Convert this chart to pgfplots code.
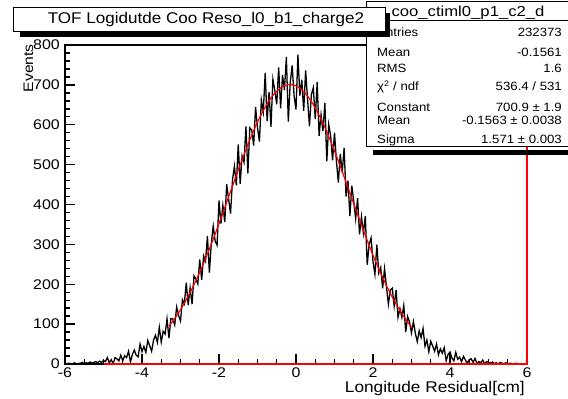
\documentclass[border=0pt]{standalone}
\usepackage{graphicx}
\usepackage{pgfplots}
\pgfplotsset{compat=1.18}
\usepackage{fontspec}
\setmainfont{Liberation Sans}
\newcommand\sx[1]{\scalebox{1.14}[1]{#1}}
\newcommand\st[1]{\scalebox{1.1}[1]{#1}}
\newcommand\tickfont{\fontsize{14pt}{16pt}\selectfont}
\newcommand\statfont{\fontsize{12pt}{14pt}\selectfont}
\begin{document}
\begin{tikzpicture}
\path[use as bounding box] (0,0) rectangle (568pt,399pt);
\begin{axis}[
  at={(65pt,35pt)}, anchor=south west,
  scale only axis, width=462pt, height=319pt,
  xmin=-6, xmax=6, ymin=0, ymax=800,
  xtick={-6,-4,-2,0,2,4,6},
  xticklabels={\sx{-6},\sx{-4},\sx{-2},\sx{0},\sx{2},\sx{4},\sx{6}},
  ytick={0,100,200,300,400,500,600,700,800},
  yticklabels={\sx{0},\sx{100},\sx{200},\sx{300},\sx{400},\sx{500},\sx{600},\sx{700},\sx{800}},
  minor x tick num=3, minor y tick num=4,
  xtick pos=left, ytick pos=left, tick align=inside,
  major tick length=10pt, minor tick length=5pt,
  tick style={line width=1.4pt, black},
  axis line style={line width=1.1pt},
  xticklabel style={font=\tickfont, anchor=north, inner sep=0pt, yshift=-4pt},
  yticklabel style={font=\tickfont, anchor=east, inner sep=0pt, xshift=-5pt},
  clip=false,
]
\addplot[black, line width=1.3pt] table {
x y
-6.00 1
-5.95 0
-5.90 2
-5.85 0
-5.80 1
-5.75 3
-5.70 0
-5.65 1
-5.60 2
-5.55 4
-5.50 1
-5.45 3
-5.40 2
-5.35 5
-5.30 2
-5.25 4
-5.20 6
-5.15 3
-5.10 7
-5.05 4
-5.00 9
-4.95 6
-4.90 16
-4.85 3
-4.80 11
-4.75 1
-4.70 16
-4.65 13
-4.60 8
-4.55 22
-4.50 8
-4.45 21
-4.40 16
-4.35 32
-4.30 5
-4.25 24
-4.20 35
-4.15 22
-4.10 18
-4.05 50
-4.00 31
-3.95 44
-3.90 29
-3.85 59
-3.80 46
-3.75 32
-3.70 60
-3.65 72
-3.60 54
-3.55 92
-3.50 55
-3.45 82
-3.40 75
-3.35 113
-3.30 65
-3.25 114
-3.20 113
-3.15 98
-3.10 143
-3.05 122
-3.00 108
-2.95 161
-2.90 151
-2.85 204
-2.80 148
-2.75 191
-2.70 150
-2.65 221
-2.60 213
-2.55 201
-2.50 262
-2.45 211
-2.40 271
-2.35 258
-2.30 321
-2.25 229
-2.20 303
-2.15 346
-2.10 308
-2.05 298
-2.00 410
-1.95 352
-1.90 398
-1.85 356
-1.80 451
-1.75 413
-1.70 377
-1.65 461
-1.60 496
-1.55 448
-1.50 551
-1.45 452
-1.40 522
-1.35 506
-1.30 596
-1.25 478
-1.20 592
-1.15 587
-1.10 548
-1.05 644
-1.00 593
-0.95 558
-0.90 662
-0.85 632
-0.80 730
-0.75 609
-0.70 682
-0.65 595
-0.60 714
-0.55 686
-0.50 651
-0.45 744
-0.40 641
-0.35 725
-0.30 687
-0.25 770
-0.20 608
-0.15 705
-0.10 749
-0.05 673
0.00 638
0.05 776
0.10 673
0.15 713
0.20 635
0.25 736
0.30 665
0.35 596
0.40 676
0.45 693
0.50 614
0.55 707
0.60 572
0.65 625
0.70 584
0.75 655
0.80 508
0.85 601
0.90 572
0.95 511
1.00 580
1.05 509
1.10 455
1.15 527
1.20 480
1.25 542
1.30 420
1.35 460
1.40 371
1.45 447
1.50 408
1.55 364
1.60 416
1.65 325
1.70 370
1.75 328
1.80 371
1.85 249
1.90 300
1.95 316
2.00 257
2.05 225
2.10 299
2.15 228
2.20 242
2.25 190
2.30 239
2.35 193
2.40 150
2.45 186
2.50 190
2.55 145
2.60 186
2.65 117
2.70 139
2.75 117
2.80 147
2.85 80
2.90 119
2.95 105
3.00 78
3.05 106
3.10 77
3.15 56
3.20 83
3.25 66
3.30 89
3.35 45
3.40 60
3.45 31
3.50 57
3.55 45
3.60 32
3.65 50
3.70 23
3.75 38
3.80 27
3.85 41
3.90 8
3.95 24
4.00 30
4.05 15
4.10 8
4.15 29
4.20 12
4.25 17
4.30 6
4.35 19
4.40 10
4.45 1
4.50 11
4.55 13
4.60 4
4.65 14
4.70 1
4.75 6
4.80 3
4.85 10
4.90 0
4.95 6
5.00 4
5.05 2
5.10 5
5.15 1
5.20 3
5.25 0
5.30 4
5.35 2
5.40 1
5.45 3
5.50 0
5.55 2
5.60 1
5.65 0
5.70 2
5.75 1
5.80 0
5.85 1
5.90 0
5.95 1
6.00 0
};
\addplot[red, line width=1.2pt, smooth] coordinates {
(-3.3,94.7)(-3.2,107.3)(-3.1,121.2)(-3.0,136.2)(-2.9,152.5)(-2.8,170.1)(-2.7,189.0)(-2.6,209.0)(-2.5,230.3)(-2.4,252.8)(-2.3,276.3)(-2.2,300.7)(-2.1,326.0)(-2.0,352.0)(-1.9,378.6)(-1.8,405.5)(-1.7,432.5)(-1.6,459.5)(-1.5,486.2)(-1.4,512.4)(-1.3,537.7)(-1.2,562.1)(-1.1,585.2)(-1.0,606.8)(-0.9,626.6)(-0.8,644.5)(-0.7,660.2)(-0.6,673.5)(-0.5,684.3)(-0.4,692.5)(-0.3,698.0)(-0.2,700.6)(-0.1,700.5)(0.0,697.4)(0.1,691.6)(0.2,683.1)(0.3,672.0)(0.4,658.3)(0.5,642.3)(0.6,624.2)(0.7,604.2)(0.8,582.4)(0.9,559.1)(1.0,534.6)(1.1,509.1)(1.2,482.8)(1.3,456.1)(1.4,429.1)(1.5,402.0)(1.6,375.2)(1.7,348.7)(1.8,322.8)(1.9,297.6)(2.0,273.3)(2.1,249.9)(2.2,227.6)(2.3,206.5)(2.4,186.5)(2.5,167.8)(2.6,150.4)(2.7,134.2)(2.8,119.3)(2.9,105.6)(3.0,93.1)
};
\addplot[red, line width=1.3pt] coordinates {(-5,0)(6,0)(6,800)};
\end{axis}
% axis labels
\node[font=\fontsize{15.5pt}{17pt}\selectfont, anchor=base east, inner sep=0pt] at (525pt,6pt) {\scalebox{1.11}[1]{Longitude Residual[cm]}};
\node[font=\fontsize{13.8pt}{16pt}\selectfont, anchor=base east, inner sep=0pt, rotate=90] at (33pt,355pt) {\sx{Events}};
% stats box
\fill[black] (373pt,244pt) rectangle (572pt,249pt);
\draw[fill=white, line width=1pt] (366pt,252pt) rectangle (571pt,397pt);
\draw[line width=1pt] (366pt,378pt) -- (571pt,378pt);
\node[font=\fontsize{14.5pt}{16pt}\selectfont, anchor=base, inner sep=0pt] at (468pt,382pt) {\scalebox{1.15}[1]{coo\_ctiml0\_p1\_c2\_d}};
\begin{scope}[every node/.style={font=\statfont, inner sep=0pt}]
\node[anchor=base west] at (377pt,362pt) {\st{Entries}};
\node[anchor=base east] at (562pt,362pt) {\st{232373}};
\node[anchor=base west] at (377pt,342pt) {\st{Mean}};
\node[anchor=base east] at (562pt,342pt) {\st{-0.1561}};
\node[anchor=base west] at (377pt,326.5pt) {\st{RMS}};
\node[anchor=base east] at (562pt,326.5pt) {\st{1.6}};
\node[anchor=base west] at (377pt,308pt) {\st{χ\textsuperscript{2} / ndf}};
\node[anchor=base east] at (562pt,308pt) {\st{536.4 / 531}};
\node[anchor=base west] at (377pt,287.5pt) {\st{Constant}};
\node[anchor=base east] at (562pt,287.5pt) {\st{700.9 ± 1.9}};
\node[anchor=base west] at (377pt,274pt) {\st{Mean}};
\node[anchor=base east] at (562pt,274pt) {\st{-0.1563 ± 0.0038}};
\node[anchor=base west] at (377pt,255pt) {\st{Sigma}};
\node[anchor=base east] at (562pt,255pt) {\st{1.571 ± 0.003}};
\end{scope}
% title box
\fill[black] (20pt,362pt) rectangle (390pt,367pt);
\fill[black] (385pt,362pt) rectangle (390pt,386pt);
\draw[fill=white, line width=1pt] (13pt,367pt) rectangle (385pt,391pt);
\node[font=\fontsize{15.5pt}{17pt}\selectfont, anchor=base, inner sep=0pt] at (206pt,375pt) {\scalebox{1.10}[1]{TOF Logidutde Coo Reso\_l0\_b1\_charge2}};
\end{tikzpicture}
\end{document}
